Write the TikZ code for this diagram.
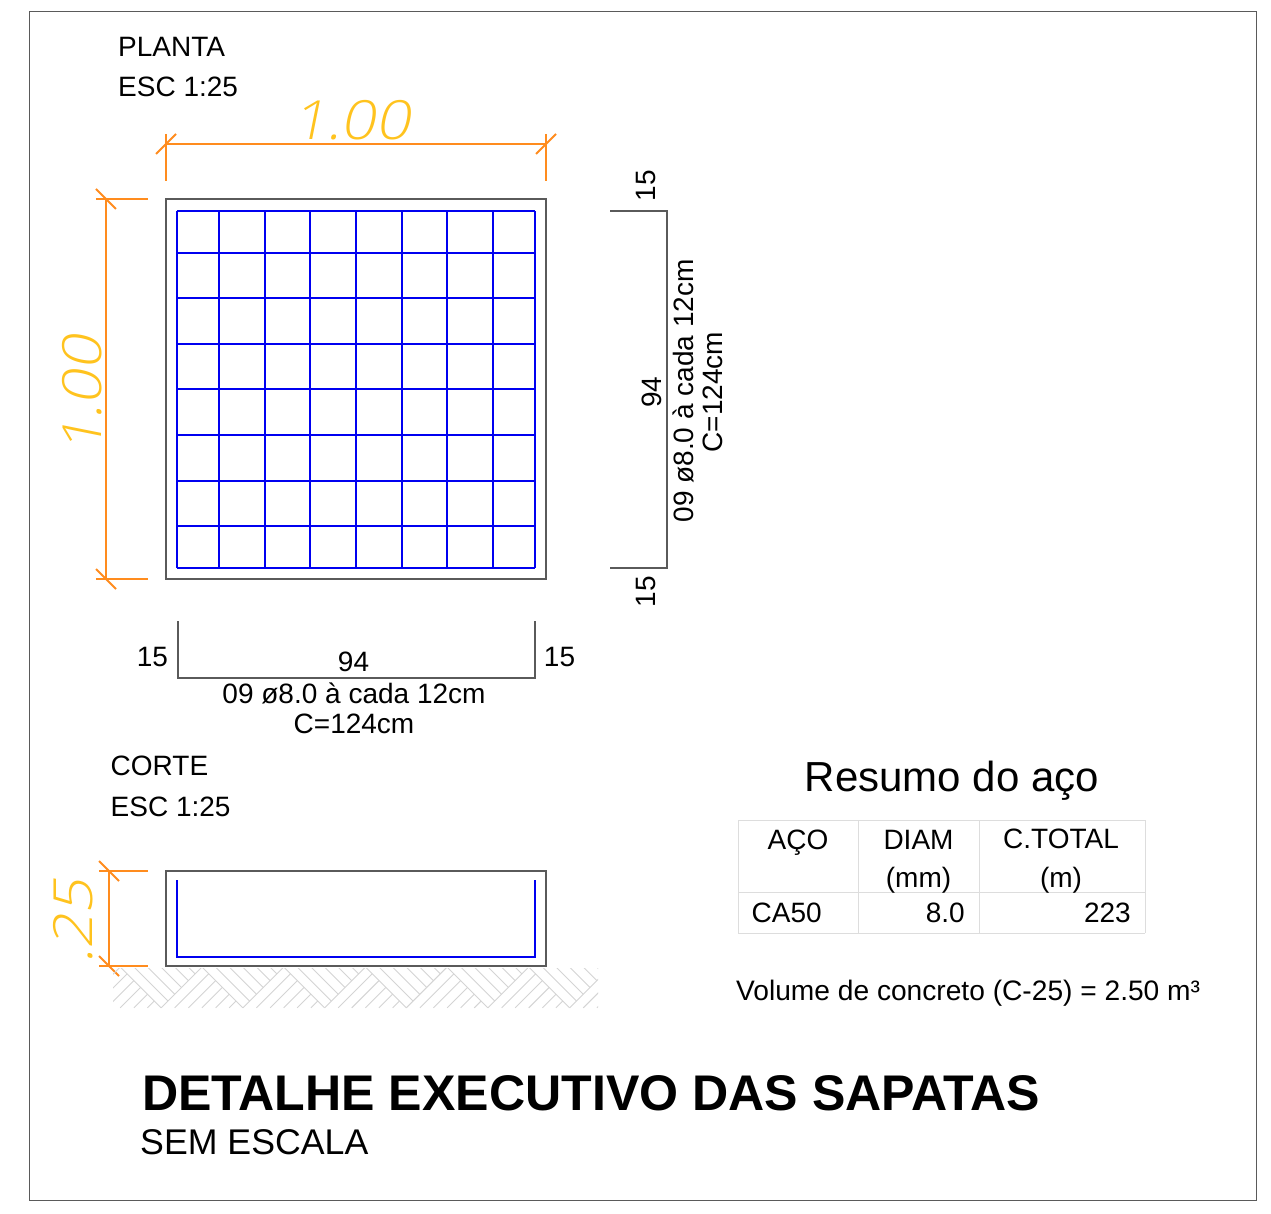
\documentclass[tikz,border=0pt]{standalone}
\usepackage{fontspec}
\setmainfont{Liberation Sans}
\newfontfamily\dimfont[FakeSlant=0.2,FakeStretch=1.12]{Open Sans Light}
\usetikzlibrary{positioning}

\tikzset{
    txt/.style={inner sep=0, font=\fontsize{28}{30}\selectfont},
    dimtxt/.style={inner sep=0, text=dimyellow, font=\dimfont\fontsize{54}{56}\selectfont},
    concrete/.style={draw=framegray, line width=2pt},
    rebar/.style={draw=rebarblue, line width=2.6pt},
    dimline/.style={draw=dimorange, line width=1.8pt},
    barshape/.style={draw=framegray, line width=1.6pt},
    tablerule/.style={draw=rulegray, line width=1pt},
    hatchline/.style={draw=hatchgray, line width=0.9pt}
}
\definecolor{framegray}{HTML}{5A5A5A}
\definecolor{rebarblue}{HTML}{0000F0}
\definecolor{dimorange}{HTML}{FF8C1E}
\definecolor{dimyellow}{HTML}{FFC31E}
\definecolor{rulegray}{HTML}{DDDDDD}
\definecolor{hatchgray}{HTML}{D4D4D4}

\begin{document}
\begin{tikzpicture}[x=1pt, y=-1pt]
    \useasboundingbox (0,0) rectangle (1271,1214);
    \fill[white] (0,0) rectangle (1271,1214);
    \draw[framegray, line width=1pt] (29,12) rectangle (1256,1200);

    % planta
    \node[txt, anchor=base west] (planta) at (118,57) {PLANTA};
    \node[txt, anchor=base west] (plantaesc) at (118,97) {ESC 1:25};
    \draw[concrete] (166,199) rectangle (546,579);
    \foreach \x in {177,219,265,310,356,402,447,493,535}
        \draw[rebar] (\x,211) -- (\x,568);
    \foreach \y in {211,253,298,344,389,435,481,526,568}
        \draw[rebar] (177,\y) -- (535,\y);

    % cotas planta
    \draw[dimline] (166,144) -- (546,144);
    \foreach \x in {166,546} {
        \draw[dimline] (\x,134) -- (\x,181);
        \draw[dimline] (\x-10,154) -- (\x+10,134);
    }
    \draw[dimline] (106,199) -- (106,579);
    \foreach \y in {199,579} {
        \draw[dimline] (96,\y) -- (148,\y);
        \draw[dimline] (96,\y-10) -- (116,\y+10);
    }
    \node[dimtxt] (cotatop) at (351,120) {1.00};
    \node[dimtxt, rotate=90] (cotaleft) at (82,395) {1.00};

    % barra horizontal
    \draw[barshape] (178,621) -- (178,678) -- (535,678) -- (535,621);
    \node[txt] (hleft) at (152.5,657) {15};
    \node[txt] (hright) at (559.5,657) {15};
    \node[txt] (hmid) at (353.5,662) {94};
    \node[txt] (hbar) at (354,693) {09 ø8.0 à cada 12cm};
    \node[txt] (hlen) at (354,724) {C=124cm};

    % barra vertical
    \draw[barshape] (610,211) -- (667,211) -- (667,568) -- (610,568);
    \node[txt, rotate=90] (vtop) at (646,185.5) {15};
    \node[txt, rotate=90] (vbottom) at (646,591.5) {15};
    \node[txt, rotate=90] (vmid) at (652,392) {94};
    \node[txt, rotate=90] (vbar) at (683,391) {09 ø8.0 à cada 12cm};
    \node[txt, rotate=90] (vlen) at (713,392) {C=124cm};

    % corte
    \node[txt, anchor=base west] (corte) at (110.5,775.5) {CORTE};
    \node[txt, anchor=base west] (corteesc) at (110.5,816.5) {ESC 1:25};
    \draw[concrete] (166,871) rectangle (546,966);
    \draw[rebar] (177,880) -- (177,957) -- (535,957) -- (535,880);
    \draw[dimline] (109,871) -- (109,966);
    \foreach \y in {871,966} {
        \draw[dimline] (99,\y) -- (148,\y);
        \draw[dimline] (99,\y-10) -- (119,\y+10);
    }
    \node[dimtxt, rotate=90] (cotacorte) at (73,922) {.25};

    % solo
    \begin{scope}
        \clip (113,968) rectangle (598,1009);
        \foreach \a in {38.6,120.3,...,620} {
            \foreach \k in {0,...,5} {
                \draw[hatchline] (\a+\k*13.6,967) -- ++({(6-\k)*6.8},{(6-\k)*6.8});
                \draw[hatchline] (\a+\k*6.8,967+\k*6.8) -- ++({-(6-\k)*6.8},{(6-\k)*6.8});
            }
        }
    \end{scope}

    % resumo
    \node[inner sep=0, font=\fontsize{42}{44}\selectfont] (resumo) at (952,781) {Resumo do aço};
    \foreach \x in {738,858,979,1145}
        \draw[tablerule] (\x,820) -- (\x,933);
    \foreach \y in {820,892,933}
        \draw[tablerule] (738,\y) -- (1145,\y);
    \node[txt] (aco) at (798,843) {AÇO};
    \node[txt] (diam) at (918.5,840) {DIAM};
    \node[txt] (mm) at (918.5,880) {(mm)};
    \node[txt] (ctotal) at (1061,839) {C.TOTAL};
    \node[txt] (metros) at (1061,880) {(m)};
    \node[txt, anchor=base west] (ca) at (751.5,922) {CA50};
    \node[txt, anchor=base east] (oito) at (965,922) {8.0};
    \node[txt, anchor=base east] (total) at (1131,922) {223};
    \node[txt, anchor=base west, font=\fontsize{28.15}{30}\selectfont] (volume) at (736,1000) {Volume de concreto (C-25) = 2.50 m³};

    % titulo
    \node[inner sep=0, anchor=base west, font=\bfseries\fontsize{50.1}{52}\selectfont] (titulo) at (142,1110) {DETALHE EXECUTIVO DAS SAPATAS};
    \node[inner sep=0, anchor=base west, font=\fontsize{35.7}{38}\selectfont] (escala) at (140,1154) {SEM ESCALA};
\end{tikzpicture}
\end{document}
